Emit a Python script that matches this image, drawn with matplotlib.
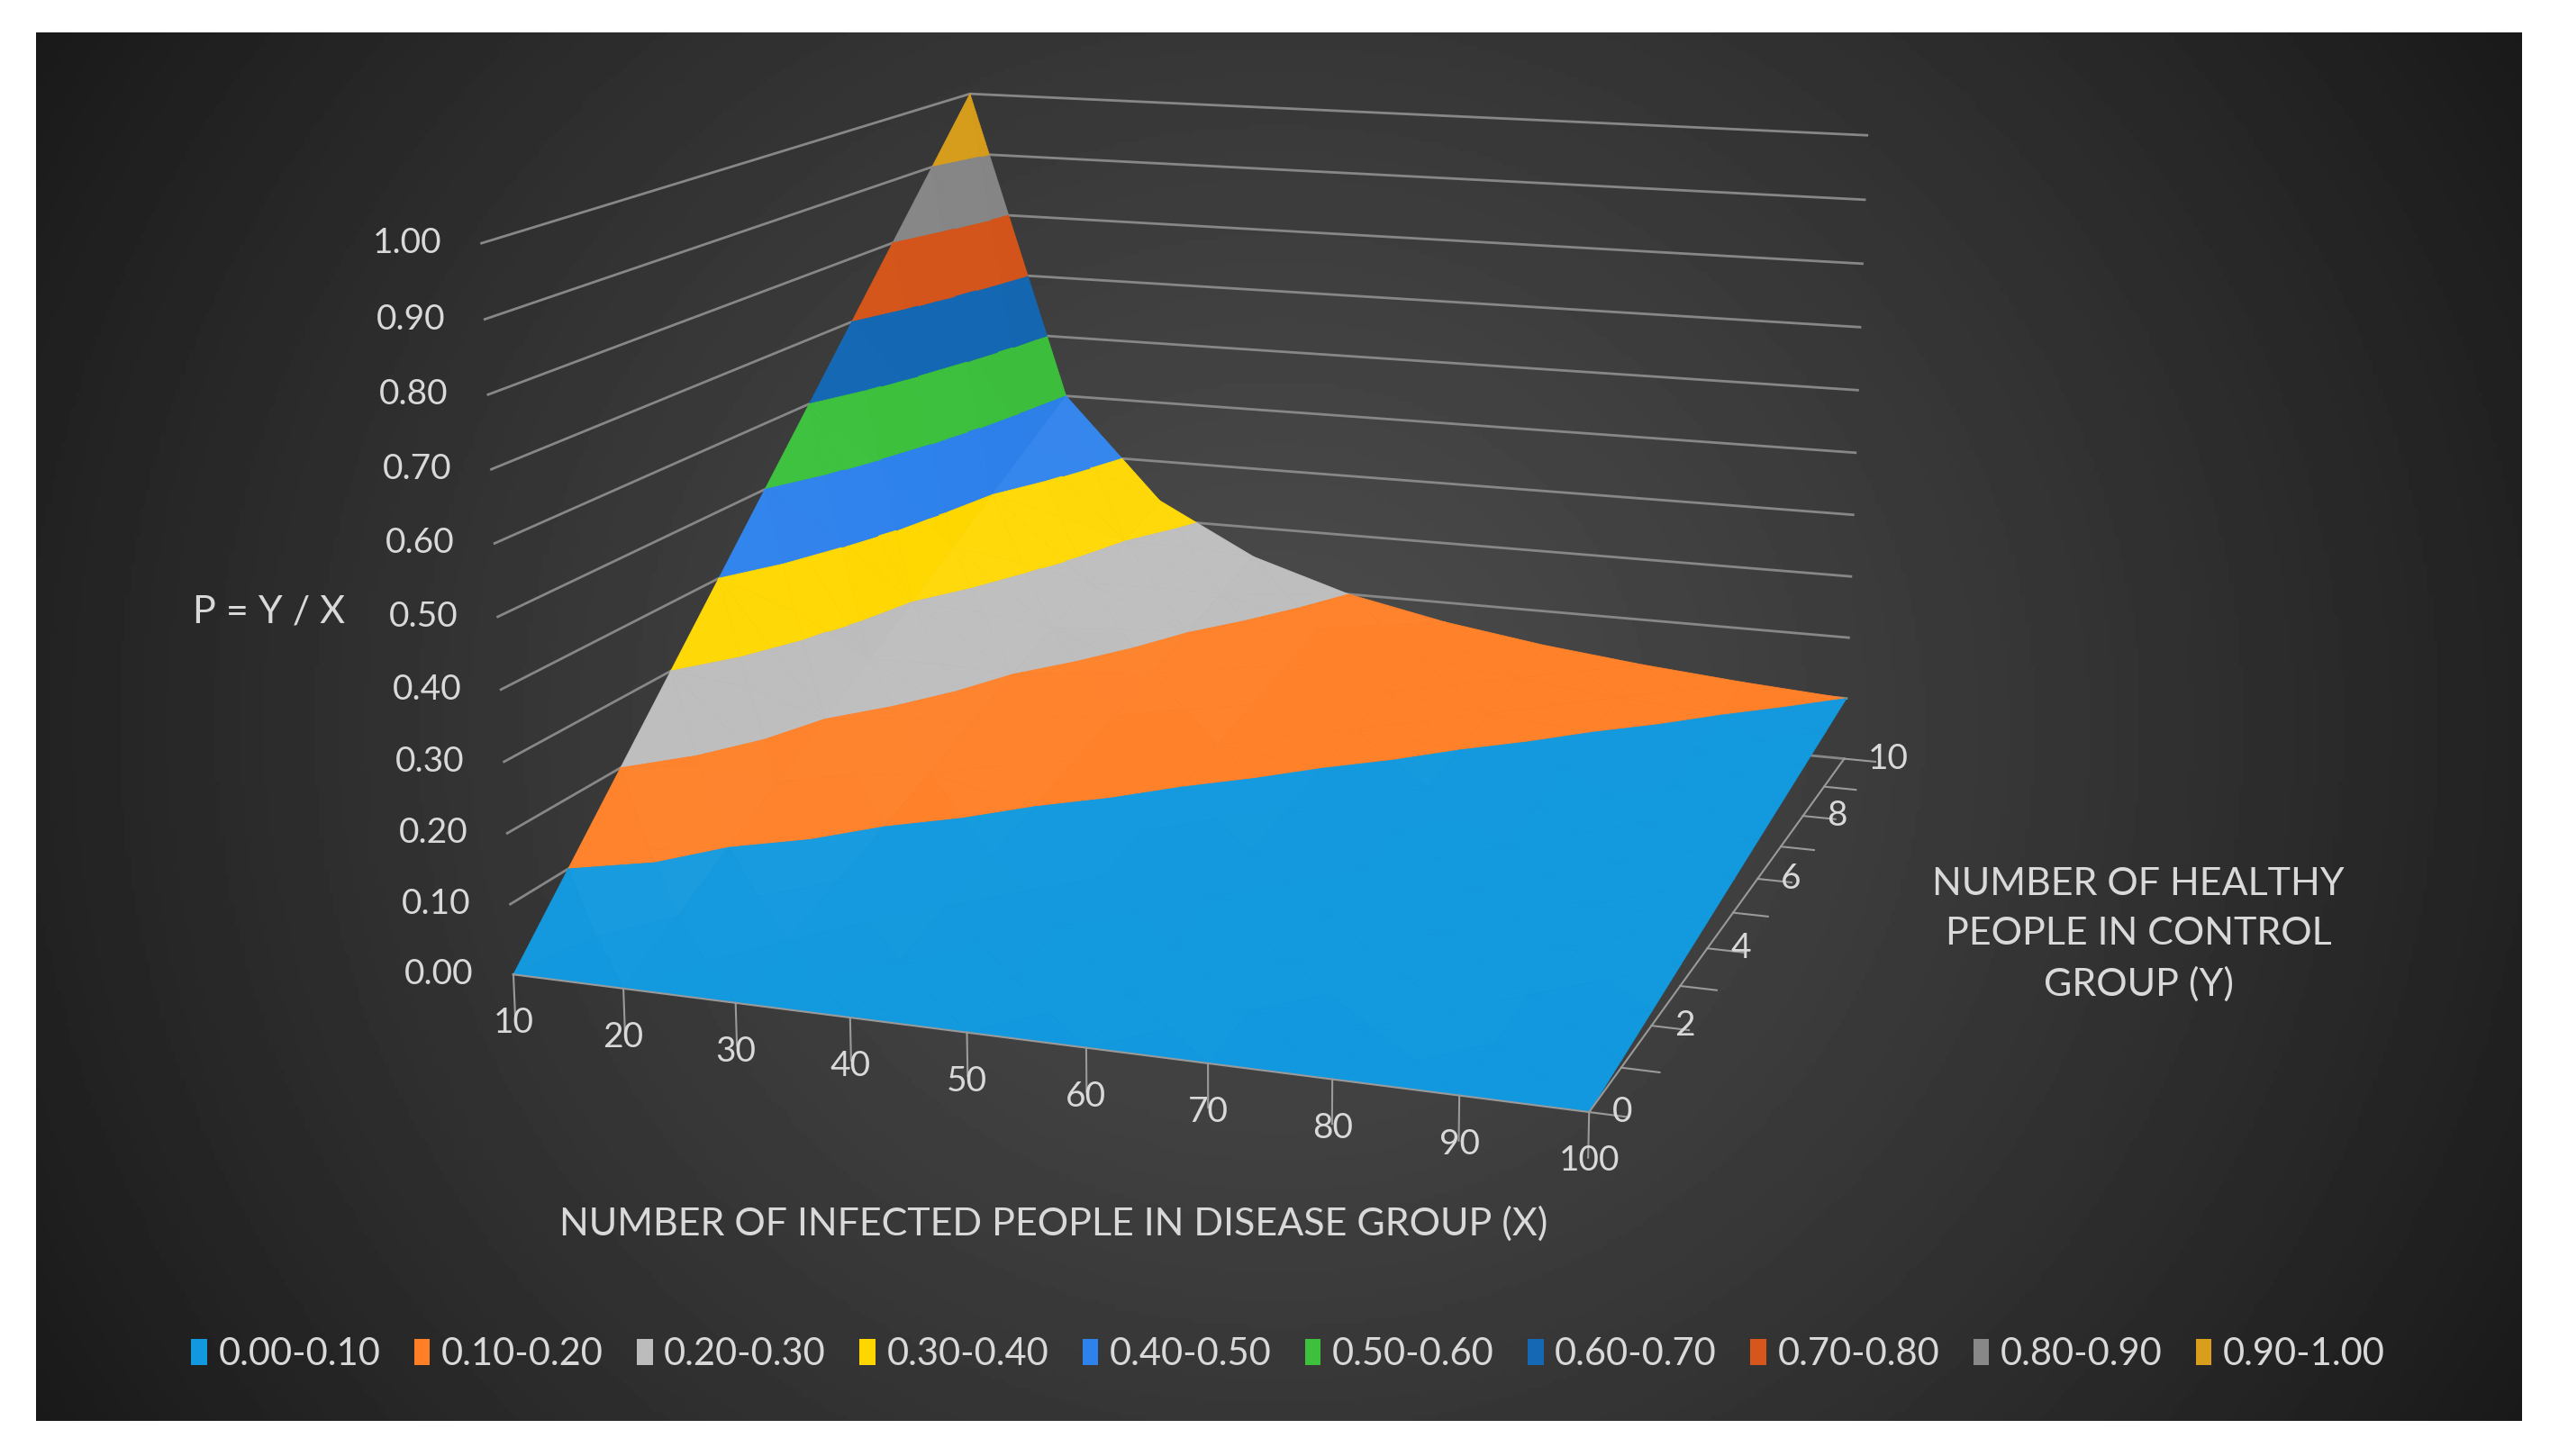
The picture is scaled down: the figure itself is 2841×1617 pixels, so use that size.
import numpy as np
import matplotlib
matplotlib.use("Agg")
import matplotlib.pyplot as plt
from matplotlib.colors import to_rgb
from matplotlib.patches import Patch
from matplotlib.transforms import offset_copy
from mpl_toolkits.mplot3d.art3d import Poly3DCollection

W, H = 2841, 1617

X_VALS = [10, 20, 30, 40, 50, 60, 70, 80, 90, 100]
Y_VALS = [0, 1, 2, 3, 4, 5, 6, 7, 8, 9, 10]
# P = Y / X, one row per Y value
P_VALS = [
    [0.000, 0.000, 0.000, 0.000, 0.000, 0.000, 0.000, 0.000, 0.000, 0.000],
    [0.100, 0.050, 0.033, 0.025, 0.020, 0.017, 0.014, 0.013, 0.011, 0.010],
    [0.200, 0.100, 0.067, 0.050, 0.040, 0.033, 0.029, 0.025, 0.022, 0.020],
    [0.300, 0.150, 0.100, 0.075, 0.060, 0.050, 0.043, 0.038, 0.033, 0.030],
    [0.400, 0.200, 0.133, 0.100, 0.080, 0.067, 0.057, 0.050, 0.044, 0.040],
    [0.500, 0.250, 0.167, 0.125, 0.100, 0.083, 0.071, 0.063, 0.056, 0.050],
    [0.600, 0.300, 0.200, 0.150, 0.120, 0.100, 0.086, 0.075, 0.067, 0.060],
    [0.700, 0.350, 0.233, 0.175, 0.140, 0.117, 0.100, 0.088, 0.078, 0.070],
    [0.800, 0.400, 0.267, 0.200, 0.160, 0.133, 0.114, 0.100, 0.089, 0.080],
    [0.900, 0.450, 0.300, 0.225, 0.180, 0.150, 0.129, 0.113, 0.100, 0.090],
    [1.000, 0.500, 0.333, 0.250, 0.200, 0.167, 0.143, 0.125, 0.111, 0.100],
]
Z_TICKS = [0.0, 0.1, 0.2, 0.3, 0.4, 0.5, 0.6, 0.7, 0.8, 0.9, 1.0]
Z_LABELS = ["0.00", "0.10", "0.20", "0.30", "0.40", "0.50", "0.60", "0.70", "0.80", "0.90", "1.00"]
Y_LABEL_VALS = [0, 2, 4, 6, 8, 10]
BAND_EDGES = [0.0, 0.1, 0.2, 0.3, 0.4, 0.5, 0.6, 0.7, 0.8, 0.9, 1.0]
BAND_LABELS = ["0.00-0.10", "0.10-0.20", "0.20-0.30", "0.30-0.40", "0.40-0.50",
               "0.50-0.60", "0.60-0.70", "0.70-0.80", "0.80-0.90", "0.90-1.00"]
BAND_COLORS = ["#1198de", "#ff7f26", "#bcbcbc", "#ffd700", "#2e82ec",
               "#3dc13d", "#1468b4", "#d6561b", "#888888", "#d99e1c"]

TEXT = "#d9d9d9"
GRID = "#878787"
AXIS = "#9a9a9a"
FONT = "Lato"

# view fitted to the reference picture
ELEV, AZIM, FOCAL = 13.414, -70.503, 0.4622
BOX = (1.4976, 1.6071, 1.0)
AX_POS = [0.1568, 0.0659, 0.6336, 1.1131]

fig = plt.figure(figsize=(W / 100, H / 100), dpi=100, facecolor="white")

# dark panel with a radial gradient
px0, px1, py0, py1 = 40, 2800, 36, 1578
bg = fig.add_axes([px0 / W, 1 - py1 / H, (px1 - px0) / W, (py1 - py0) / H], zorder=0)
gx, gy = np.meshgrid(np.linspace(-1, 1, 500), np.linspace(-1, 1, 300))
r = np.sqrt(gx ** 2 + (0.6 * gy) ** 2)
bg.imshow(np.clip(0.295 - 0.16 * r ** 1.3, 0.1, 1), cmap="gray", vmin=0, vmax=1,
          extent=(0, 1, 0, 1), aspect="auto")
bg.set_axis_off()

ax = fig.add_axes(AX_POS, projection="3d", zorder=1)
ax.set_facecolor("none")
ax.set_xlim(X_VALS[0], X_VALS[-1])
ax.set_ylim(Y_VALS[0], Y_VALS[-1])
ax.set_zlim(Z_TICKS[0], Z_TICKS[-1])
ax.view_init(elev=ELEV, azim=AZIM)
ax.set_proj_type("persp", focal_length=FOCAL)
ax.set_box_aspect(BOX)
ax.computed_zorder = False
ax.set_axis_off()


def clip_poly(poly, keep):
    out = []
    for i in range(len(poly)):
        a, b = poly[i], poly[(i + 1) % len(poly)]
        va, vb = keep(a), keep(b)
        if va >= 0:
            out.append(a)
        if (va >= 0) != (vb >= 0):
            out.append(a + va / (va - vb) * (b - a))
    return out


# surface: every cell split into four triangles around its centre (as Excel draws it),
# each triangle cut into colour bands
scale = np.array([BOX[0] / (X_VALS[-1] - X_VALS[0]), BOX[1] / (Y_VALS[-1] - Y_VALS[0]), BOX[2]])
light = np.array([0.6, -0.25, 1.0])
light /= np.linalg.norm(light)
P = np.array(P_VALS)
polys, colors = [], []
for i in range(len(Y_VALS) - 1):
    for j in range(len(X_VALS) - 1):
        c = [np.array([X_VALS[jj], Y_VALS[ii], P[ii, jj]], float)
             for ii, jj in ((i, j), (i, j + 1), (i + 1, j + 1), (i + 1, j))]
        mid = np.mean(c, axis=0)
        for k in range(4):
            tri = [c[k], c[(k + 1) % 4], mid]
            nrm = np.cross((tri[1] - tri[0]) * scale, (tri[2] - tri[0]) * scale)
            nrm /= np.linalg.norm(nrm)
            if nrm[2] < 0:
                nrm = -nrm
            f = 0.26 * (nrm @ light - light[2])
            for b in range(len(BAND_COLORS)):
                lo, hi = BAND_EDGES[b], BAND_EDGES[b + 1]
                piece = clip_poly(tri, lambda p: p[2] - lo)
                if len(piece) < 3:
                    continue
                piece = clip_poly(piece, lambda p: hi - p[2])
                if len(piece) < 3:
                    continue
                rgb = np.array(to_rgb(BAND_COLORS[b]))
                rgb = rgb + (1 - rgb) * f if f > 0 else rgb * (1 + f)
                polys.append(np.array(piece))
                colors.append(np.clip(rgb, 0, 1))

# wall gridlines
for z in Z_TICKS:
    ax.plot([X_VALS[0], X_VALS[0], X_VALS[-1]], [Y_VALS[0], Y_VALS[-1], Y_VALS[-1]], [z, z, z],
            color=GRID, lw=2, zorder=1)

surf = Poly3DCollection(polys, facecolors=colors, edgecolors=colors, linewidths=0.6, zorder=2)
ax.add_collection3d(surf)

# axis lines and tick marks
ax.plot([X_VALS[0], X_VALS[-1]], [0, 0], [0, 0], color=AXIS, lw=1.5, zorder=3)
for x in X_VALS:
    ax.plot([x, x], [0, 0], [0, -0.06], color=AXIS, lw=1.5, zorder=3)
ax.plot([X_VALS[-1], X_VALS[-1]], [Y_VALS[0], Y_VALS[-1]], [0, 0], color=AXIS, lw=1.5, zorder=3)
for y in Y_VALS:
    ax.plot([X_VALS[-1], X_VALS[-1] + 3], [y, y], [0, 0], color=AXIS, lw=1.5, zorder=3)

# tick labels, placed at the projected tick positions
M = ax.get_proj()


def flat(x, y, z):
    t = M @ np.array([x, y, z, 1.0])
    return t[0] / t[3], t[1] / t[3]


tick_style = dict(color=TEXT, fontsize=28, family=FONT)
for x in X_VALS:
    ax.text2D(*flat(x, 0, 0), str(x), ha="center", va="center",
              transform=offset_copy(ax.transData, x=0, y=-54, units="dots"), **tick_style)
for y in Y_LABEL_VALS:
    ax.text2D(*flat(X_VALS[-1], y, 0), str(y), ha="left", va="center",
              transform=offset_copy(ax.transData, x=26, y=0, units="dots"), **tick_style)
for z, lab in zip(Z_TICKS, Z_LABELS):
    ax.text2D(*flat(X_VALS[0], 0, z), lab, ha="right", va="center",
              transform=offset_copy(ax.transData, x=-44, y=0, units="dots"), **tick_style)

title_style = dict(color=TEXT, fontsize=31, family=FONT, ha="center", va="center")
fig.text(1170 / W, 1 - 1359 / H, "NUMBER OF INFECTED PEOPLE IN DISEASE GROUP (X)", **title_style)
fig.text(2374 / W, 1 - 1038 / H, "NUMBER OF HEALTHY\nPEOPLE IN CONTROL\nGROUP (Y)",
         linespacing=1.55, **title_style)
fig.text(299 / W, 1 - 679 / H, "P = Y / X", **title_style)

handles = [Patch(facecolor=c, edgecolor="none") for c in BAND_COLORS]
fig.legend(handles, BAND_LABELS, loc="center", bbox_to_anchor=(1430 / W, 1 - 1504 / H), ncol=10,
           frameon=False, handlelength=0.42, handleheight=0.7, handletextpad=0.3,
           columnspacing=0.9, prop={"family": FONT, "size": 30}, labelcolor=TEXT)

fig.savefig("out.png", dpi=100, facecolor=fig.get_facecolor())
